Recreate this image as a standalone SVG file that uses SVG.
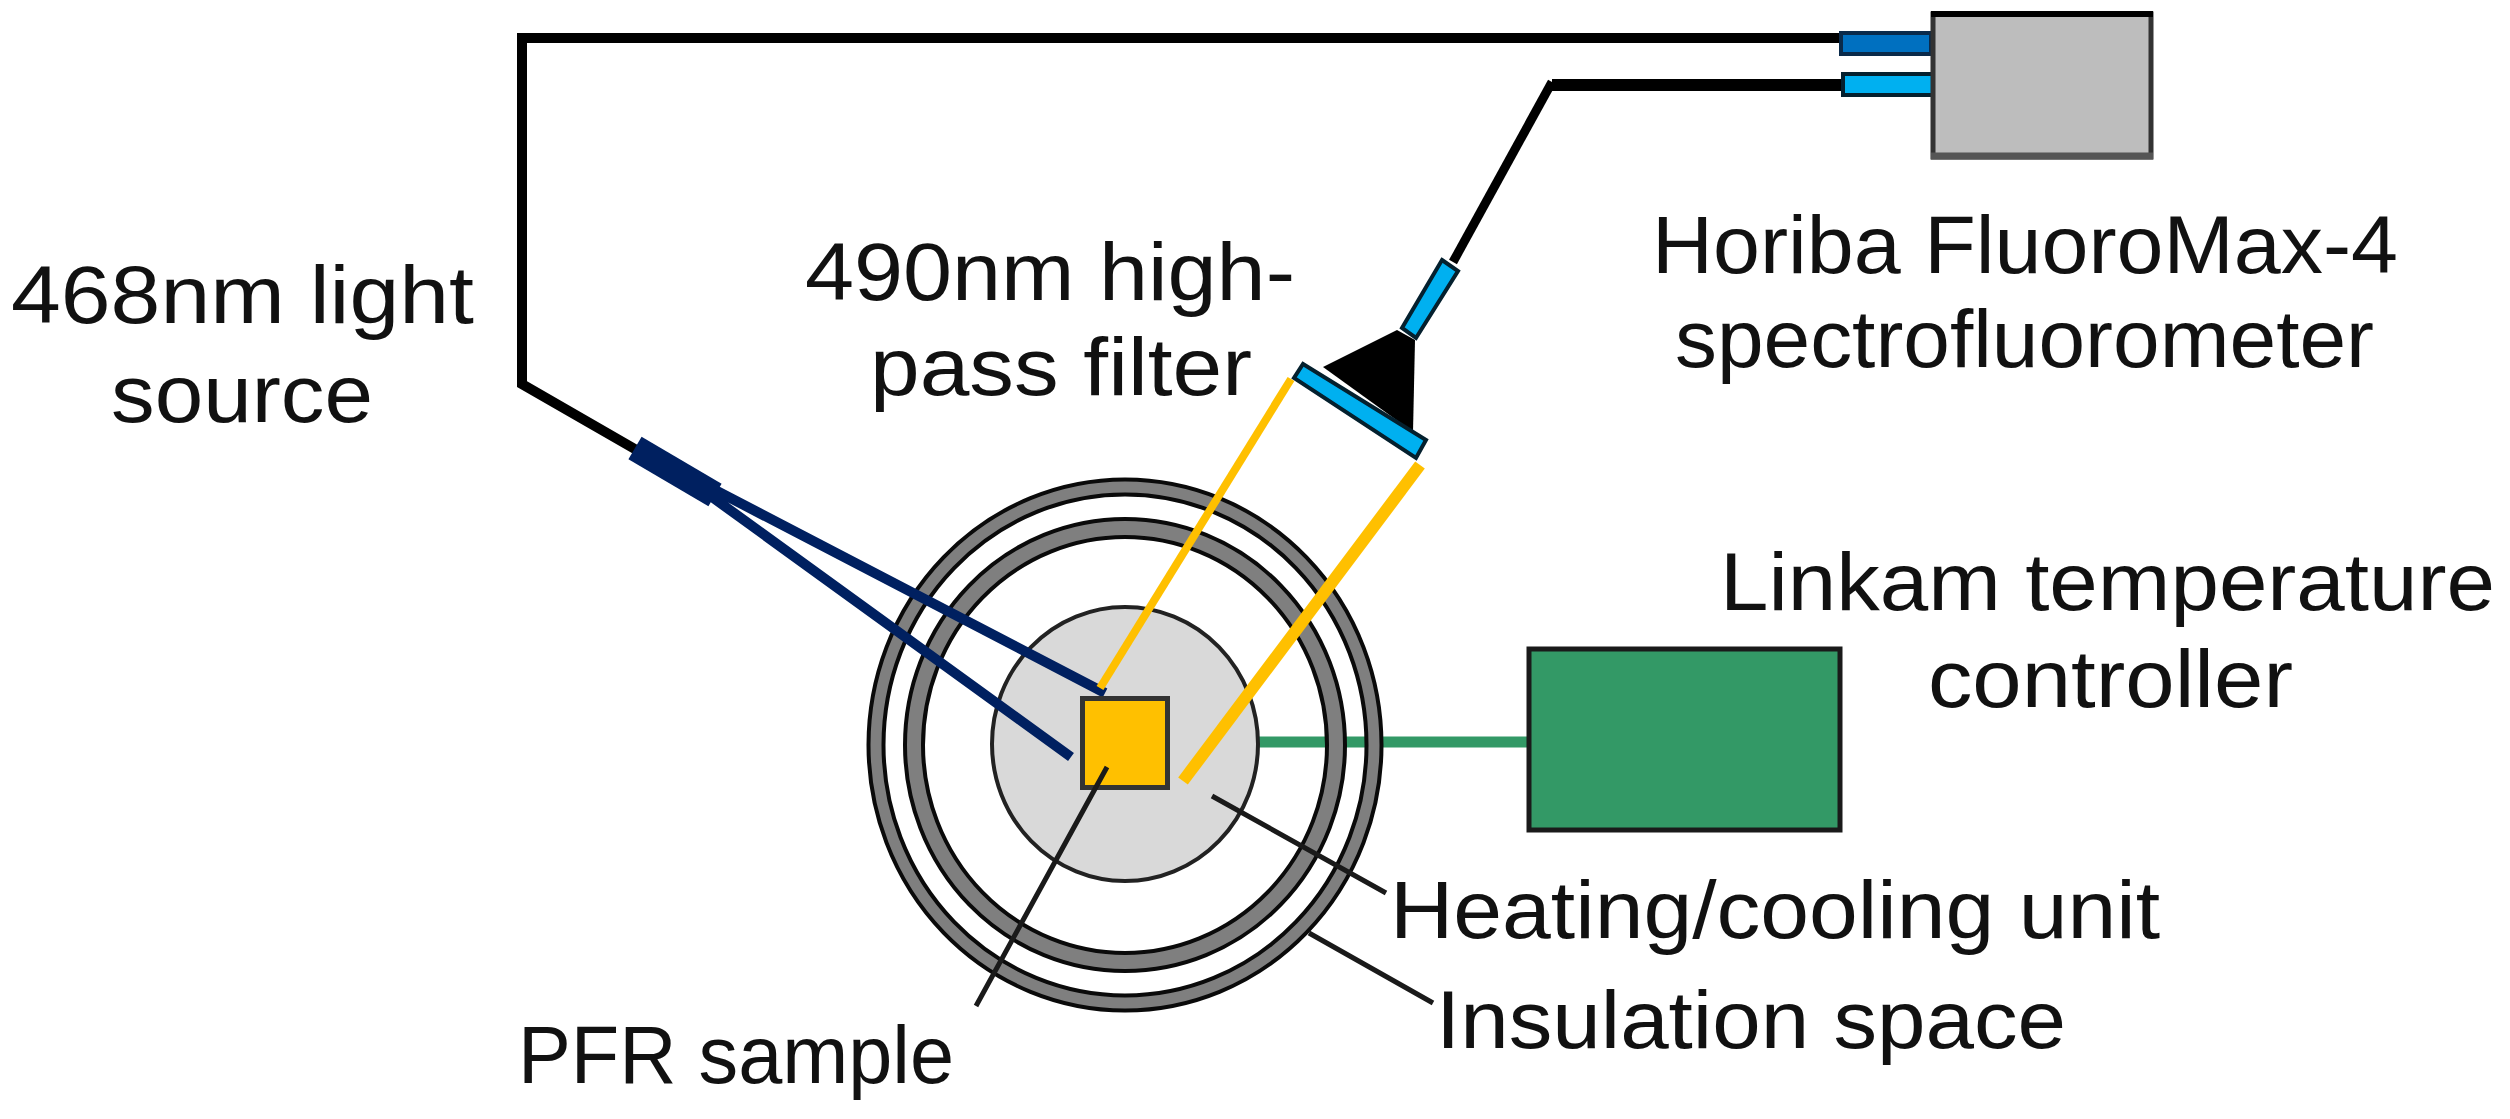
<svg xmlns="http://www.w3.org/2000/svg" width="2510" height="1119" viewBox="0 0 2510 1119">
<style>
text{font-family:"Liberation Sans",Arial,Helvetica,sans-serif;font-size:82px;fill:#111}
.k{fill:none;stroke:#000;stroke-linejoin:miter}
.leader{fill:none;stroke:#1a1a1a;stroke-width:5}
.ring1{fill:none;stroke:#0a0a0a;stroke-width:19}
.ring2{fill:none;stroke:#0a0a0a;stroke-width:22}
.ringg{fill:none;stroke:#7f7f7f;stroke-width:11}
.ringh{fill:none;stroke:#7f7f7f;stroke-width:14}
.sky{fill:#00b0f0;stroke:#04202e;stroke-width:4;stroke-linejoin:miter}
</style>
<rect width="2510" height="1119" fill="#fff"/>
<g id="under-connectors"><path d="M1255 742H1527" fill="none" stroke="#339966" stroke-width="11"/></g>
<g id="chamber">
<ellipse class="ring1" cx="1125" cy="745" rx="249" ry="258"/><ellipse class="ringg" cx="1125" cy="745" rx="249" ry="258"/>
<ellipse class="ring2" cx="1125" cy="745" rx="211" ry="217"/><ellipse class="ringh" cx="1125" cy="745" rx="211" ry="217"/>
<ellipse cx="1125" cy="744" rx="133" ry="137" fill="#d9d9d9" stroke="#222" stroke-width="4"/>
</g>
<g id="controller"><rect x="1529" y="649" width="311" height="181" fill="#339966" stroke="#1a1a1a" stroke-width="5"/></g>
<g id="connectors">
<path class="k" stroke-width="10" d="M1841 38H522V384L640 452"/>
<path class="k" stroke-width="12" d="M1841 85H1552"/>
<path class="k" stroke-width="9" d="M1552 82L1453 262"/>
<path d="M715 490L1105 693M712 497L1071 757" fill="none" stroke="#002060" stroke-width="10"/>
<path d="M635 448L715 495" fill="none" stroke="#002060" stroke-width="26"/>
<path d="M1291 379L1100 688" fill="none" stroke="#ffc000" stroke-width="8"/>
<path d="M1420 465L1183 781" fill="none" stroke="#ffc000" stroke-width="12"/>
</g>
<g id="probe">
<rect x="1841" y="33" width="90" height="21" fill="#0070c0" stroke="#0a2a4a" stroke-width="4"/>
<rect x="1843" y="74" width="90" height="21" fill="#00b0f0" stroke="#04202e" stroke-width="4"/>
<path d="M1323 367L1397 330L1415 340L1413 432Z" fill="#000"/>
<path class="sky" d="M1442 260L1458 271L1416 338L1402 328Z"/>
<path class="sky" d="M1303 364L1426 440L1416 458L1294 378Z"/>
</g>
<g id="spectrofluorometer"><rect x="1933" y="14" width="218" height="143" fill="#bdbdbd" stroke="#333" stroke-width="5"/><path d="M1931 14H2153" stroke="#000" stroke-width="6"/><path d="M1931 156H2153" stroke="#555" stroke-width="7"/></g>
<g id="sample"><rect x="1082.5" y="698.5" width="85" height="89" fill="#ffc000" stroke="#333" stroke-width="5"/></g>
<g id="leaders"><path class="leader" d="M1107 767L976 1006M1212 796L1386 893M1309 933L1433 1003"/></g>
<g id="labels">
<text x="11" y="323" textLength="463" lengthAdjust="spacingAndGlyphs">468nm light</text>
<text x="111" y="422" textLength="262" lengthAdjust="spacingAndGlyphs">source</text>
<text x="805" y="300" textLength="490" lengthAdjust="spacingAndGlyphs">490nm high-</text>
<text x="870" y="395" textLength="382" lengthAdjust="spacingAndGlyphs">pass filter</text>
<text x="1652" y="273" textLength="746" lengthAdjust="spacingAndGlyphs">Horiba FluoroMax-4</text>
<text x="1675" y="367" textLength="699" lengthAdjust="spacingAndGlyphs">spectrofluorometer</text>
<text x="1720" y="610" textLength="775" lengthAdjust="spacingAndGlyphs">Linkam temperature</text>
<text x="1928" y="707" textLength="365" lengthAdjust="spacingAndGlyphs">controller</text>
<text x="1390" y="938" textLength="770" lengthAdjust="spacingAndGlyphs">Heating/cooling unit</text>
<text x="1436" y="1048" textLength="630" lengthAdjust="spacingAndGlyphs">Insulation space</text>
<text x="518" y="1083" textLength="436" lengthAdjust="spacingAndGlyphs">PFR sample</text>
</g>
</svg>
